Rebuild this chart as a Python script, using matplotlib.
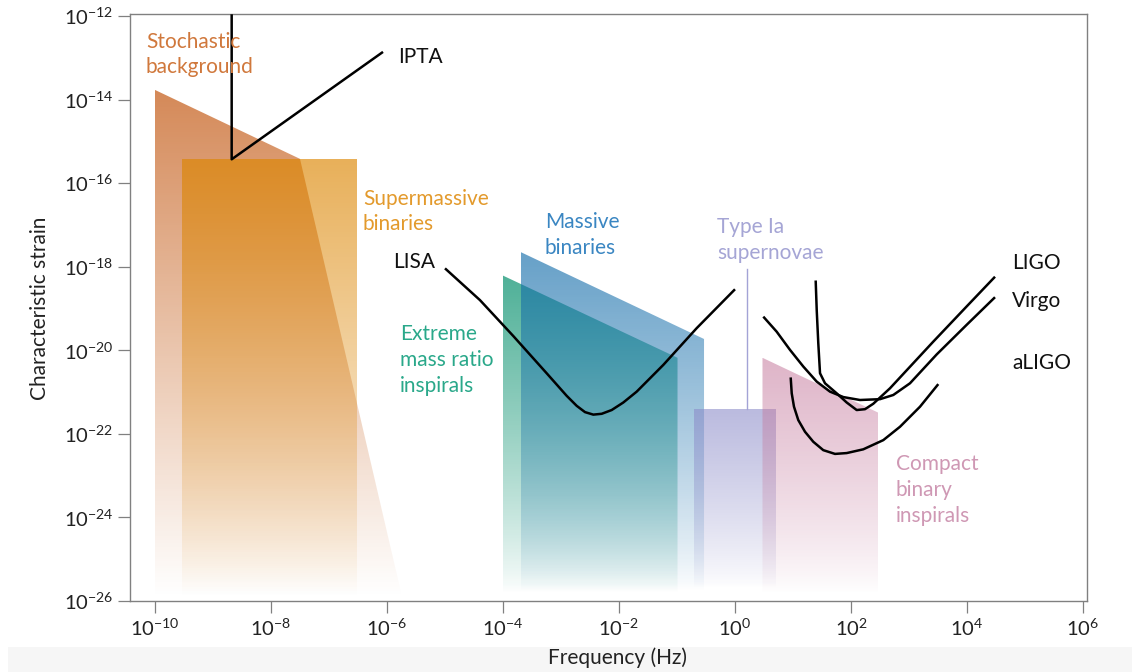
import numpy as np
import matplotlib
matplotlib.use("Agg")
import matplotlib.pyplot as plt
from matplotlib.patches import Polygon, Rectangle
from matplotlib.colors import to_rgb

# ---------------- data (log10 frequency [Hz], log10 characteristic strain) -------------
x_ticks = [-10, -8, -6, -4, -2, 0, 2, 4, 6]
y_ticks = [-12, -14, -16, -18, -20, -22, -24, -26]

stoch_logf = [-10.0, -7.5, -5.74, -10.0]
stoch_logh = [-13.77, -15.42, -25.9, -25.9]

smbh_logf = [-9.53, -6.52, -6.52, -9.53]
smbh_logh = [-15.42, -15.42, -25.9, -25.9]

emri_logf = [-4.005, -0.991, -0.991, -4.005]
emri_logh = [-18.21, -20.18, -25.8, -25.8]

mbh_logf = [-3.695, -0.534, -0.534, -3.695]
mbh_logh = [-17.65, -19.73, -25.75, -25.75]

sn_logf = [-0.702, 0.707, 0.707, -0.702]
sn_logh = [-21.40, -21.40, -25.7, -25.7]
sn_line_logf = [0.201, 0.201]
sn_line_logh = [-18.05, -21.40]

cbc_logf = [0.474, 2.466, 2.466, 0.474]
cbc_logh = [-20.18, -21.49, -25.8, -25.8]

ipta_logf = [-8.678, -8.678, -6.069]
ipta_logh = [-11.96, -15.43, -12.86]

lisa_logf = [-5.0, -4.397, -3.822, -3.247, -2.902, -2.729, -2.586, -2.443, -2.298,
             -2.126, -1.926, -1.695, -1.236, -0.660, 0.0]
lisa_logh = [-18.04, -18.80, -19.66, -20.55, -21.09, -21.33, -21.48, -21.54, -21.52,
             -21.43, -21.25, -20.99, -20.35, -19.47, -18.54]

ligo_logf = [1.391, 1.409, 1.436, 1.466, 1.552, 1.753, 1.926, 2.098, 2.241, 2.384,
             2.672, 3.414, 3.995, 4.483]
ligo_logh = [-18.33, -19.04, -19.83, -20.55, -20.79, -21.03, -21.25, -21.43, -21.41,
             -21.28, -20.91, -19.80, -18.95, -18.24]

virgo_logf = [0.488, 0.718, 0.948, 1.178, 1.409, 1.638, 1.868, 2.155, 2.5, 2.729,
              3.017, 3.477, 3.995, 4.483]
virgo_logh = [-19.195, -19.554, -19.99, -20.39, -20.75, -20.99, -21.12, -21.19, -21.17,
              -21.07, -20.79, -20.10, -19.39, -18.73]

aligo_logf = [0.960, 0.978, 1.017, 1.091, 1.207, 1.350, 1.522, 1.724, 1.926, 2.212,
              2.557, 2.845, 3.190, 3.505]
aligo_logh = [-20.65, -21.03, -21.35, -21.67, -21.95, -22.19, -22.39, -22.48, -22.46,
              -22.37, -22.15, -21.83, -21.35, -20.81]

# ---------------- style ----------------
plt.rcParams["font.family"] = ["Lato", "DejaVu Sans"]
plt.rcParams["mathtext.fontset"] = "custom"
plt.rcParams["mathtext.rm"] = "Lato"
plt.rcParams["mathtext.it"] = "Lato:italic"
plt.rcParams["mathtext.bf"] = "Lato:bold"

W, H = 1132, 672
fig = plt.figure(figsize=(W / 100, H / 100), dpi=100)
fig.patch.set_facecolor("white")

# light grey band at the bottom of the figure
fig.patches.append(Rectangle((8 / W, 0), 1 - 8 / W, 25 / H, transform=fig.transFigure,
                             facecolor="#f6f6f6", edgecolor="none", zorder=0))

ax = fig.add_axes([130 / W, 1 - 601 / H, (1087 - 130) / W, (601 - 14.3) / H])
ax.set_facecolor("white")

def grad_fill(xs, ys, color, a_top, z, power=1.0):
    poly = Polygon(np.column_stack([xs, ys]), closed=True, facecolor="none",
                   edgecolor="none")
    ax.add_patch(poly)
    x0, x1 = min(xs), max(xs)
    y0, y1 = min(ys), max(ys)
    n = 300
    t = np.linspace(1, 0, n)
    alpha = a_top * t ** power
    img = np.zeros((n, 2, 4))
    img[..., :3] = to_rgb(color)
    img[..., 3] = alpha[:, None]
    im = ax.imshow(img, extent=[x0, x1, y0, y1], origin="upper", aspect="auto",
                   zorder=z, interpolation="bilinear")
    im.set_clip_path(poly)

grad_fill(stoch_logf, stoch_logh, (0.806, 0.455, 0.229), 0.85, 1, 1.0)
grad_fill(smbh_logf, smbh_logh, (0.863, 0.522, 0.0), 0.65, 2, 0.9)
grad_fill(emri_logf, emri_logh, (0.08, 0.59, 0.46), 0.75, 3, 0.8)
grad_fill(mbh_logf, mbh_logh, (0.08, 0.43, 0.67), 0.65, 4, 0.8)
grad_fill(sn_logf, sn_logh, (0.55, 0.55, 0.79), 0.6, 5, 0.8)
grad_fill(cbc_logf, cbc_logh, (0.77, 0.47, 0.61), 0.55, 6, 0.8)

ax.plot(sn_line_logf, sn_line_logh, color="#a3a3d6", lw=1.0, zorder=7)

lw = 1.8
for xs, ys in [(ipta_logf, ipta_logh), (lisa_logf, lisa_logh), (ligo_logf, ligo_logh),
               (virgo_logf, virgo_logh), (aligo_logf, aligo_logh)]:
    ax.plot(xs, ys, color="black", lw=lw, zorder=8, solid_joinstyle="round",
            solid_capstyle="butt")

ax.set_xlim(-10.431, 6.069)
ax.set_ylim(-26, -11.96)

ax.set_xticks(x_ticks)
ax.set_xticklabels([r"$10^{%d}$" % v for v in x_ticks])
ax.set_yticks(y_ticks)
ax.set_yticklabels([r"$10^{%d}$" % v for v in y_ticks])
ax.tick_params(axis="both", direction="out", length=8.6, width=0.9, color="#808080",
               labelsize=14.5, labelcolor="#222222", pad=3.5)
ax.tick_params(top=False, right=False)
for s in ax.spines.values():
    s.set_color("#808080")
    s.set_linewidth(1.0)

# ---------------- text ----------------
def px2x(px):
    return -10 + (px - 155) / 58.0

def py2y(py):
    return -12 - (py - 16) / 41.79

FS = 15

def label(px, baselines, lines, color):
    for b, t in zip(baselines, lines):
        ax.text(px2x(px), py2y(b), t, color=color, fontsize=FS, ha="left",
                va="baseline", zorder=9)

label(146, [48, 73], ["Stochastic", "background"], "#d0783c")
label(398, [63], ["IPTA"], "#111111")
label(363, [205, 230], ["Supermassive", "binaries"], "#e39a2c")
label(545, [228, 254], ["Massive", "binaries"], "#3a86c2")
label(717, [233, 259], ["Type Ia", "supernovae"], "#a5a5d5")
label(393, [268], ["LISA"], "#111111")
label(400, [340, 366, 392], ["Extreme", "mass ratio", "inspirals"], "#2aa88a")
label(1012, [269], ["LIGO"], "#111111")
label(1012, [307], ["Virgo"], "#111111")
label(1012, [369], ["aLIGO"], "#111111")
label(896, [470, 496, 522], ["Compact", "binary", "inspirals"], "#cf98b4")

fig.text(618 / W, 1 - 664 / H, "Frequency (Hz)", ha="center", va="baseline",
         fontsize=FS, color="#222222")
fig.text(40 / W, 1 - 308 / H, "Characteristic strain", ha="center", va="center",
         rotation=90, fontsize=FS, color="#222222")

fig.savefig("out.png", dpi=100)
